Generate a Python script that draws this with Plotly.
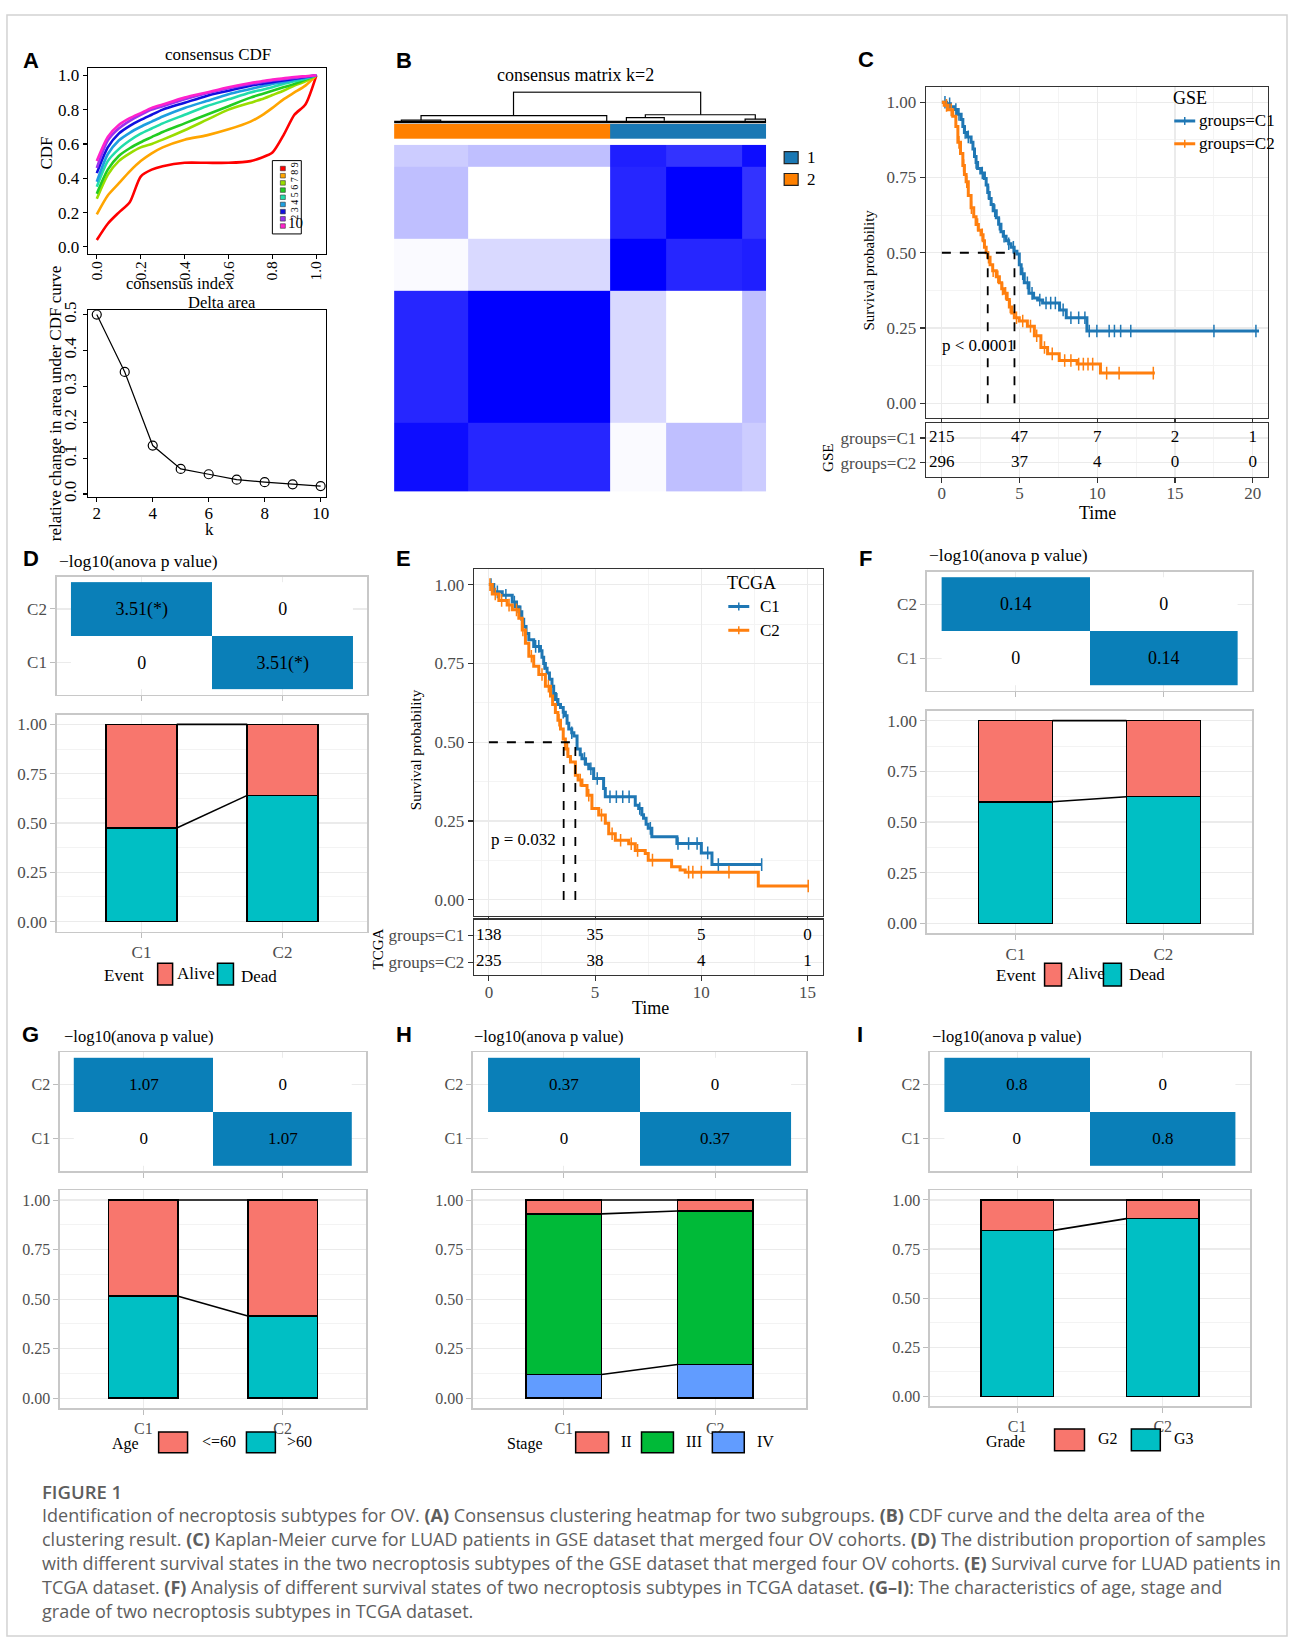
import numpy as np
import plotly.graph_objects as go

W, H = 1293, 1645
SERIF = "Liberation Serif"
SANS = "Liberation Sans"
CAPF = "Open Sans"

# ================= DATA =================
# Panel A: consensus CDF
cdf_index = [0.0, 0.05, 0.1, 0.15, 0.2, 0.25, 0.3, 0.4, 0.5, 0.6, 0.7, 0.75, 0.8, 0.85, 0.9, 0.95, 1.0]
cdf_k2 = [0.04, 0.135, 0.20, 0.26, 0.41, 0.45, 0.47, 0.49, 0.49, 0.49, 0.50, 0.52, 0.55, 0.65, 0.77, 0.83, 1.0]
cdf_k3 = [0.19, 0.30, 0.37, 0.44, 0.50, 0.545, 0.58, 0.625, 0.65, 0.685, 0.73, 0.765, 0.81, 0.86, 0.90, 0.94, 1.0]
cdf_k4 = [0.28, 0.42, 0.50, 0.545, 0.58, 0.60, 0.625, 0.68, 0.74, 0.80, 0.84, 0.86, 0.885, 0.91, 0.94, 0.965, 1.0]
cdf_k5 = [0.31, 0.45, 0.53, 0.575, 0.61, 0.64, 0.67, 0.72, 0.77, 0.82, 0.87, 0.89, 0.91, 0.93, 0.95, 0.975, 1.0]
cdf_k6 = [0.35, 0.50, 0.57, 0.62, 0.66, 0.69, 0.72, 0.77, 0.82, 0.86, 0.90, 0.915, 0.93, 0.95, 0.965, 0.98, 1.0]
cdf_k7 = [0.38, 0.54, 0.62, 0.665, 0.70, 0.73, 0.76, 0.81, 0.85, 0.89, 0.92, 0.935, 0.95, 0.96, 0.975, 0.985, 1.0]
cdf_k8 = [0.43, 0.58, 0.66, 0.705, 0.74, 0.77, 0.80, 0.84, 0.88, 0.91, 0.94, 0.95, 0.96, 0.97, 0.98, 0.99, 1.0]
cdf_k9 = [0.46, 0.62, 0.69, 0.735, 0.77, 0.80, 0.82, 0.86, 0.895, 0.925, 0.95, 0.96, 0.97, 0.978, 0.985, 0.992, 1.0]
cdf_k10 = [0.50, 0.64, 0.71, 0.75, 0.78, 0.81, 0.83, 0.87, 0.90, 0.93, 0.955, 0.965, 0.975, 0.982, 0.99, 0.995, 1.0]
cdf_curves = [cdf_k2, cdf_k3, cdf_k4, cdf_k5, cdf_k6, cdf_k7, cdf_k8, cdf_k9, cdf_k10]
cdf_k_labels = ["2", "3", "4", "5", "6", "7", "8", "9", "10"]

delta_k = [2, 3, 4, 5, 6, 7, 8, 9, 10]
delta_area = [0.50, 0.34, 0.135, 0.07, 0.055, 0.04, 0.033, 0.027, 0.022]

# Panel B: consensus matrix (block structure, samples per sub-block, left to right)
block_sizes = [102, 194, 77, 105, 33]
block_consensus = [
    [0.95, 0.85, 0.02, 0.25, 0.20],
    [0.85, 1.00, 0.15, 0.00, 0.25],
    [0.02, 0.15, 1.00, 0.85, 0.88],
    [0.25, 0.00, 0.85, 1.00, 0.80],
    [0.20, 0.25, 0.88, 0.80, 0.95],
]
cluster_sizes = [296, 215]          # displayed order: cluster 2, cluster 1
cluster_names = ["2", "1"]
# dendrogram links: left x, right x, merge height, left child height, right child height
dend_xl = [164, 37, 10, 345, 319, 482]
dend_xr = [421, 292, 64, 496, 371, 510]
dend_h = [1.0, 0.26, 0.12, 0.29, 0.20, 0.15]
dend_hl = [0.26, 0.12, 0.06, 0.20, 0.06, 0.06]
dend_hr = [0.29, 0.06, 0.06, 0.15, 0.10, 0.06]
dend_leaf = 0.06

# Panel C: GSE Kaplan-Meier
gse_t1 = [0.3, 0.55, 0.8, 1.0, 1.24, 1.35, 1.45, 1.65, 1.88, 2.0, 2.1, 2.2, 2.3, 2.5, 2.74, 2.85, 2.95, 3.05, 3.17, 3.3,
          3.5, 3.65, 3.8, 3.95, 4.13, 4.3, 4.45, 4.65, 4.83, 4.98, 5.1, 5.3, 5.6, 5.9, 6.16, 6.48, 7.57, 8.0, 9.33]
gse_s1 = [0.995, 0.985, 0.976, 0.96, 0.943, 0.92, 0.90, 0.885, 0.867, 0.845, 0.82, 0.80, 0.78, 0.765, 0.747, 0.725, 0.70,
          0.68, 0.66, 0.64, 0.616, 0.595, 0.57, 0.555, 0.54, 0.53, 0.518, 0.505, 0.496, 0.46, 0.43, 0.40, 0.365, 0.35,
          0.343, 0.333, 0.31, 0.284, 0.24]
gse_end1 = 20.4
gse_cens1 = [0.2, 0.5, 0.9, 1.1, 1.5, 1.7, 2.2, 2.6, 3.0, 3.4, 3.7, 4.0, 4.3, 4.6, 5.2, 5.5, 5.8, 6.3, 6.7, 7.0, 7.3, 7.8,
             8.3, 8.8, 9.2, 9.48, 9.97, 10.76, 11.1, 11.5, 12.15, 17.5, 20.2]
gse_t2 = [0.15, 0.4, 0.7, 0.9, 1.03, 1.2, 1.35, 1.45, 1.56, 1.7, 1.88, 2.05, 2.2, 2.35, 2.52, 2.65, 2.74, 2.85, 2.95, 3.1,
          3.27, 3.5, 3.7, 3.85, 4.02, 4.2, 4.34, 4.5, 4.66, 4.98, 5.5, 5.95, 6.37, 6.8, 7.55, 8.7, 10.2]
gse_s2 = [0.99, 0.975, 0.954, 0.92, 0.867, 0.83, 0.79, 0.76, 0.736, 0.69, 0.65, 0.62, 0.594, 0.575, 0.56, 0.54, 0.518,
          0.50, 0.485, 0.46, 0.44, 0.42, 0.40, 0.38, 0.365, 0.345, 0.32, 0.30, 0.284, 0.273, 0.256, 0.224, 0.185, 0.164,
          0.142, 0.13, 0.10]
gse_end2 = 13.7
gse_cens2 = [0.3, 0.6, 1.1, 1.4, 1.6, 1.9, 2.3, 2.6, 3.0, 3.3, 3.6, 3.9, 4.1, 4.4, 4.8, 5.2, 5.7, 6.1, 6.6, 7.1, 7.9, 8.3,
             8.8, 9.1, 9.4, 9.7, 10.6, 11.4, 13.6]
gse_medians = [4.67, 2.95]
gse_risk_times = [0, 5, 10, 15, 20]
gse_risk_c1 = [215, 47, 7, 2, 1]
gse_risk_c2 = [296, 37, 4, 0, 0]

# Panel E: TCGA Kaplan-Meier
tcga_t1 = [0.23, 0.63, 1.1, 1.3, 1.41, 1.55, 1.64, 1.75, 1.88, 2.11, 2.43, 2.5, 2.58, 2.66, 2.74, 2.85, 2.97, 3.05, 3.13,
           3.25, 3.37, 3.5, 3.6, 3.68, 3.76, 3.9, 4.0, 4.15, 4.3, 4.38, 4.55, 4.7, 4.93, 5.4, 5.48, 6.89, 7.05, 7.2,
           7.28, 7.4, 7.5, 7.67, 8.85, 10.0, 10.5]
tcga_s1 = [0.977, 0.966, 0.945, 0.93, 0.914, 0.89, 0.867, 0.845, 0.825, 0.804, 0.79, 0.77, 0.75, 0.735, 0.72, 0.70,
           0.678, 0.655, 0.636, 0.62, 0.61, 0.595, 0.584, 0.56, 0.542, 0.53, 0.52, 0.479, 0.46, 0.448, 0.43, 0.416,
           0.385, 0.353, 0.327, 0.30, 0.29, 0.27, 0.259, 0.24, 0.227, 0.20, 0.179, 0.149, 0.112]
tcga_end1 = 12.84
tcga_cens1 = [0.1, 0.4, 0.8, 1.2, 1.5, 2.2, 2.35, 2.6, 3.2, 3.5, 3.9, 4.5, 4.8, 5.1, 5.7, 6.0, 6.3, 6.6, 7.1, 7.6, 8.9,
              9.4, 9.8, 10.3, 10.8, 12.84]
tcga_t2 = [0.16, 0.47, 0.86, 1.1, 1.41, 1.57, 1.72, 1.88, 2.11, 2.35, 2.66, 2.9, 3.0, 3.13, 3.25, 3.37, 3.5, 3.6, 3.72,
           3.84, 4.07, 4.2, 4.38, 4.62, 4.85, 5.17, 5.48, 5.64, 5.95, 6.58, 6.89, 7.36, 7.5, 8.6, 9.0, 9.24, 12.68]
tcga_s2 = [0.97, 0.95, 0.935, 0.92, 0.893, 0.856, 0.814, 0.773, 0.741, 0.715, 0.678, 0.647, 0.62, 0.594, 0.57, 0.542,
           0.51, 0.479, 0.455, 0.437, 0.395, 0.38, 0.363, 0.332, 0.29, 0.269, 0.243, 0.21, 0.189, 0.178, 0.157, 0.147,
           0.126, 0.105, 0.095, 0.088, 0.044]
tcga_end2 = 15.03
tcga_cens2 = [0.05, 0.3, 0.6, 0.95, 1.3, 1.6, 2.0, 2.5, 2.8, 3.3, 3.7, 4.3, 4.7, 5.3, 5.8, 6.2, 6.7, 7.0, 7.7, 9.4, 9.6,
              10.0, 11.3, 15.03]
tcga_medians = [4.07, 3.52]
tcga_risk_times = [0, 5, 10, 15]
tcga_risk_c1 = [138, 35, 5, 0]
tcga_risk_c2 = [235, 38, 4, 1]

# Panels D, F, G, H, I
subtypes = ["C1", "C2"]
anova_D, anova_D_label = 3.51, "3.51(*)"
anova_F, anova_F_label = 0.14, "0.14"
anova_G, anova_G_label = 1.07, "1.07"
anova_H, anova_H_label = 0.37, "0.37"
anova_I, anova_I_label = 0.8, "0.8"
D_dead = [0.475, 0.64]
D_alive = [0.525, 0.36]
F_dead = [0.60, 0.625]
F_alive = [0.40, 0.375]
G_over60 = [0.515, 0.415]
G_under60 = [0.485, 0.585]
H_IV = [0.12, 0.17]
H_III = [0.81, 0.775]
H_II = [0.07, 0.055]
I_G3 = [0.845, 0.905]
I_G2 = [0.155, 0.095]

# ================= HELPERS =================
layout = {}
traces = []
annotations = []
shapes = []


def PX(x):
    return x / W


def PY(y):
    return 1 - y / H


def xref(n):
    return "x" if n == 1 else f"x{n}"


def yref(n):
    return "y" if n == 1 else f"y{n}"


def axes(n, box, xr, yr, xs, ys):
    x0, y0, x1, y1 = box
    xa = dict(domain=[PX(x0), PX(x1)], range=xr, anchor=yref(n), zeroline=False, fixedrange=True)
    ya = dict(domain=[PY(y1), PY(y0)], range=yr, anchor=xref(n), zeroline=False, fixedrange=True)
    xa.update(xs)
    ya.update(ys)
    layout["xaxis" if n == 1 else f"xaxis{n}"] = xa
    layout["yaxis" if n == 1 else f"yaxis{n}"] = ya


def txt(t, x, y, size=17, color="black", family=SERIF, xa="center", ya="middle", angle=0, weight=None):
    f = dict(family=family, size=size, color=color)
    if weight:
        f["weight"] = weight
    annotations.append(dict(text=t, x=PX(x), y=PY(y), xref="paper", yref="paper", showarrow=False,
                            font=f, xanchor=xa, yanchor=ya, textangle=angle))


def rect(x0, y0, x1, y1, fill, line="black", lw=1.2):
    shapes.append(dict(type="rect", xref="paper", yref="paper", x0=PX(x0), x1=PX(x1), y0=PY(y1), y1=PY(y0),
                       fillcolor=fill, line=dict(color=line, width=lw)))


def pline(x0, y0, x1, y1, color, lw):
    shapes.append(dict(type="line", xref="paper", yref="paper", x0=PX(x0), x1=PX(x1), y0=PY(y0), y1=PY(y1),
                       line=dict(color=color, width=lw)))


R_AX = dict(showline=True, mirror=True, linecolor="black", linewidth=1.2, ticks="outside", ticklen=4,
            tickwidth=1.2, tickcolor="black", showgrid=False,
            tickfont=dict(family=SERIF, size=17, color="black"))
KM_AX = dict(showline=True, mirror=True, linecolor="#333333", linewidth=1.2, ticks="outside", ticklen=5,
             tickwidth=1.2, tickcolor="#333333", showgrid=True, gridcolor="#EBEBEB", gridwidth=1.2,
             tickfont=dict(family=SERIF, size=17, color="#4D4D4D"))
LT_AX = dict(showline=True, mirror=True, linecolor="#C8C8C8", linewidth=1.5, ticks="outside", ticklen=5,
             tickwidth=1, tickcolor="#BDBDBD", showgrid=True, gridcolor="#EBEBEB", gridwidth=1.2,
             tickfont=dict(family=SERIF, size=17, color="#4D4D4D"))

SALMON, TEAL, GREEN, LBLUE = "#F8766D", "#00BFC4", "#00BA38", "#619CFF"
TILE = "#0A7FB8"
KM1, KM2 = "#1F77B4", "#FF7F0E"

# ================= PANEL A =================
cdf_colors = ["#FF0000", "#FFA500", "#99DD00", "#22CC22", "#22DDAA", "#1E9FE0", "#1010E0", "#9933EE", "#FF22CC"]
axes(1, (88, 60, 327, 247), [-0.041, 1.045], [-0.04, 1.04],
     dict(R_AX, tickvals=[0, 0.2, 0.4, 0.6, 0.8, 1.0], tickformat=".1f", tickangle=-90, ticklabelstandoff=-4,
          tickfont=dict(family=SERIF, size=15.5, color="black")),
     dict(R_AX, tickvals=[0, 0.2, 0.4, 0.6, 0.8, 1.0], tickformat=".1f"))
for curve, col in zip(cdf_curves, cdf_colors):
    traces.append(go.Scatter(x=cdf_index, y=curve, mode="lines", line=dict(color=col, width=2.6, shape="spline",
                                                                              smoothing=0.7),
                             xaxis=xref(1), yaxis=yref(1), hoverinfo="skip"))
# CDF legend box
rect(273, 153, 302, 227, "white", "black", 1)
for i, (col, lab) in enumerate(zip(cdf_colors, cdf_k_labels)):
    yy = 161 + i * 7.25
    rect(281, yy - 2.3, 286, yy + 2.3, col, "#333333", 0.6)
txt("2 3 4 5 6 7 8 9", 295, 183, size=10, angle=-90)
txt("10", 296, 216, size=15)
txt("consensus CDF", 219, 46, size=17)
txt("consensus index", 180, 277, size=16.5)
txt("CDF", 47, 145, size=17, angle=-90)

axes(2, (88, 304, 327, 492), [1.68, 10.2], [-0.007, 0.512],
     dict(R_AX, tickvals=[2, 4, 6, 8, 10], ticklabelstandoff=-3),
     dict(R_AX, tickvals=[0, 0.1, 0.2, 0.3, 0.4, 0.5], tickformat=".1f", tickangle=-90))
traces.append(go.Scatter(x=delta_k, y=delta_area, mode="lines+markers", line=dict(color="black", width=1.2),
                         marker=dict(symbol="circle-open", size=9, color="black", line=dict(width=1.2)),
                         xaxis=xref(2), yaxis=yref(2), hoverinfo="skip"))
txt("Delta area", 223, 296, size=16.5)
txt("relative change in area under CDF curve", 55, 398, size=17, angle=-90)
txt("k", 210, 525, size=17)

# ================= PANEL B =================
edges = [0]
for s in block_sizes:
    edges.append(edges[-1] + s)
NS = edges[-1]
HID = dict(visible=False)
axes(3, (395, 137, 768, 487), [0, NS], [0, NS], HID, HID)
traces.append(go.Heatmap(x=edges, y=edges, z=block_consensus, colorscale=[[0, "#FFFFFF"], [1, "#0000FF"]],
                         zmin=0, zmax=1, showscale=False, xaxis=xref(3), yaxis=yref(3), hoverinfo="skip"))
cedges = [0, cluster_sizes[0], cluster_sizes[0] + cluster_sizes[1]]
axes(4, (395, 116, 768, 131), [0, NS], [0, 1], HID, HID)
traces.append(go.Heatmap(x=cedges, y=[0, 1], z=[[0, 1]], colorscale=[[0, "#FF8000"], [1, "#1A78B4"]],
                         zmin=0, zmax=1, showscale=False, xaxis=xref(4), yaxis=yref(4), hoverinfo="skip"))
axes(5, (395, 83, 768, 116), [0, NS], [0, 1.03], HID, HID)
dx, dy = [], []
for xl, xr_, h, hl, hr in zip(dend_xl, dend_xr, dend_h, dend_hl, dend_hr):
    dx += [xl, xl, xr_, xr_, None]
    dy += [hl, h, h, hr, None]
traces.append(go.Scatter(x=dx, y=dy, mode="lines", line=dict(color="black", width=1.2),
                         xaxis=xref(5), yaxis=yref(5), hoverinfo="skip"))
traces.append(go.Scatter(x=[0, NS], y=[dend_leaf, dend_leaf], mode="lines", line=dict(color="black", width=2.5),
                         xaxis=xref(5), yaxis=yref(5), hoverinfo="skip"))
txt("consensus matrix k=2", 577, 67, size=18)
rect(786, 144, 800, 156, "#1A78B4", "#222222", 1.2)
rect(786, 166, 800, 178, "#FF8000", "#222222", 1.2)
txt(cluster_names[1], 807, 150, size=17, xa="left")
txt(cluster_names[0], 807, 172, size=17, xa="left")


# ================= KM panels =================
def step_at(times, survs, t):
    idx = np.searchsorted(np.array(times), t, side="right") - 1
    return 1.0 if idx < 0 else survs[idx]


def km_panel(nk, nr, kbox, rbox, xr, rr, t1, s1, e1, c1, t2, s2, e2, c2, meds, rt, r1, r2, rlabels):
    axes(nk, kbox, xr, [-0.05, 1.05],
         dict(KM_AX, tick0=0, dtick=5, showticklabels=False, minor=dict(dtick=2.5, showgrid=True,
                                                                         gridcolor="#F4F4F4", gridwidth=1)),
         dict(KM_AX, tickvals=[0, 0.25, 0.5, 0.75, 1.0], tickformat=".2f",
              minor=dict(tickvals=[0.125, 0.375, 0.625, 0.875], showgrid=True, gridcolor="#F4F4F4", gridwidth=1)))
    for t, s, e, c, col in ((t1, s1, e1, c1, KM1), (t2, s2, e2, c2, KM2)):
        traces.append(go.Scatter(x=[0] + t + [e], y=[1.0] + s + [s[-1]], mode="lines",
                                 line=dict(color=col, width=3, shape="hv"),
                                 xaxis=xref(nk), yaxis=yref(nk), hoverinfo="skip"))
        traces.append(go.Scatter(x=c, y=[step_at(t, s, v) for v in c], mode="markers",
                                 marker=dict(symbol="line-ns", size=9, line=dict(color=col, width=1.5)),
                                 xaxis=xref(nk), yaxis=yref(nk), hoverinfo="skip"))
    mmax = max(meds)
    traces.append(go.Scatter(x=[0, mmax], y=[0.5, 0.5], mode="lines", line=dict(color="black", width=1.8, dash="dash"),
                             xaxis=xref(nk), yaxis=yref(nk), hoverinfo="skip"))
    for m in meds:
        traces.append(go.Scatter(x=[m, m], y=[0, 0.5], mode="lines",
                                 line=dict(color="black", width=1.8, dash="dash"),
                                 xaxis=xref(nk), yaxis=yref(nk), hoverinfo="skip"))
    axes(nr, rbox, xr, rr,
         dict(KM_AX, tick0=0, dtick=5, ticklabelstandoff=-4,
              minor=dict(dtick=2.5, showgrid=True, gridcolor="#F4F4F4", gridwidth=1)),
         dict(KM_AX, tickvals=[2, 1], ticktext=rlabels))
    for yy, r in ((2, r1), (1, r2)):
        traces.append(go.Scatter(x=rt, y=[yy] * len(rt), mode="text", text=[str(v) for v in r],
                                 textfont=dict(family=SERIF, size=17, color="black"),
                                 xaxis=xref(nr), yaxis=yref(nr), hoverinfo="skip"))


km_panel(6, 7, (928, 79, 1271, 413), (928, 418, 1271, 472), [-1.03, 20.98], [0.44, 2.6],
         gse_t1, gse_s1, gse_end1, gse_cens1, gse_t2, gse_s2, gse_end2, gse_cens2, gse_medians,
         gse_risk_times, gse_risk_c1, gse_risk_c2, ["groups=C1", "groups=C2"])
txt("Survival probability", 871, 263, size=15, angle=-90)
txt("Time", 1100, 509, size=18)
txt("GSE", 830, 453, size=15, angle=-90)
txt("p &lt; 0.0001", 942, 340, size=17, xa="left")
txt("GSE", 1174, 90, size=18, xa="left")
for yy, col, lab in ((113, KM1, "groups=C1"), (136, KM2, "groups=C2")):
    pline(1177, yy, 1198, yy, col, 3)
    pline(1187.5, yy - 4, 1187.5, yy + 4, col, 1.5)
    txt(lab, 1200, yy, size=17, xa="left")

km_panel(10, 11, (475, 565, 825, 915), (475, 919, 825, 975), [-0.705, 15.73], [0.52, 2.59],
         tcga_t1, tcga_s1, tcga_end1, tcga_cens1, tcga_t2, tcga_s2, tcga_end2, tcga_cens2, tcga_medians,
         tcga_risk_times, tcga_risk_c1, tcga_risk_c2, ["groups=C1", "groups=C2"])
txt("Survival probability", 417, 748, size=15, angle=-90)
txt("Time", 652, 1008, size=18)
txt("TCGA", 379, 949, size=15, angle=-90)
txt("p = 0.032", 490, 838, size=17, xa="left")
txt("TCGA", 727, 579, size=18, xa="left")
for yy, col, lab in ((603, KM1, "C1"), (627, KM2, "C2")):
    pline(730, yy, 751, yy, col, 3)
    pline(740.5, yy - 4, 740.5, yy + 4, col, 1.5)
    txt(lab, 760, yy, size=17, xa="left")


# ================= heat + stacked bar panels =================
def heat_bar(nh, nb, hbox, bbox, val, lab, stacks, fs):
    tf = dict(LT_AX["tickfont"], size=fs)
    axes(nh, hbox, [-0.6, 1.6], [-0.6, 1.6],
         dict(LT_AX, tickvals=[0, 1], showticklabels=False),
         dict(LT_AX, tickvals=[0, 1], ticktext=subtypes, tickfont=tf))
    traces.append(go.Heatmap(x=[0, 1], y=[0, 1], z=[[0, val], [val, 0]],
                             text=[["0", lab], [lab, "0"]], texttemplate="%{text}",
                             textfont=dict(family=SERIF, size=fs + 1, color="black"),
                             colorscale=[[0, "#FFFFFF"], [1, TILE]], zmin=0, zmax=val, showscale=False,
                             xaxis=xref(nh), yaxis=yref(nh), hoverinfo="skip"))
    axes(nb, bbox, [-0.6, 1.6], [-0.05, 1.05],
         dict(LT_AX, tickvals=[0, 1], ticktext=subtypes, tickfont=tf),
         dict(LT_AX, tickvals=[0, 0.25, 0.5, 0.75, 1.0], tickformat=".2f", tickfont=tf,
              minor=dict(tickvals=[0.125, 0.375, 0.625, 0.875], showgrid=True, gridcolor="#F3F3F3", gridwidth=1)))
    cum = np.zeros(2)
    for vals, col in stacks:
        traces.append(go.Bar(x=[0, 1], y=vals, width=0.5, marker=dict(color=col, line=dict(color="black", width=1.6)),
                             xaxis=xref(nb), yaxis=yref(nb), hoverinfo="skip"))
        cum = cum + np.array(vals)
        traces.append(go.Scatter(x=[0.25, 0.75], y=list(cum), mode="lines", line=dict(color="black", width=1.6),
                                 xaxis=xref(nb), yaxis=yref(nb), hoverinfo="skip"))


T = "−log10(anova p value)"
heat_bar(8, 9, (57, 573, 368, 692), (57, 712, 368, 931), anova_D, anova_D_label,
         [(D_dead, TEAL), (D_alive, SALMON)], 17)
txt(T, 57, 557, size=17.5, xa="left")
txt("Event", 124, 975, size=17)
rect(158, 963, 173, 985, SALMON, "black", 1.5)
txt("Alive", 175, 973, size=17, xa="left")
rect(218, 963, 234, 985, TEAL, "black", 1.5)
txt("Dead", 240, 976, size=17, xa="left")

heat_bar(12, 13, (929, 568, 1255, 688), (929, 708, 1255, 933), anova_F, anova_F_label,
         [(F_dead, TEAL), (F_alive, SALMON)], 17)
txt(T, 929, 551, size=17.5, xa="left")
txt("Event", 1018, 975, size=17)
rect(1047, 963, 1064, 986, SALMON, "black", 1.5)
txt("Alive", 1067, 973, size=17, xa="left")
rect(1106, 963, 1124, 986, TEAL, "black", 1.5)
txt("Dead", 1130, 974, size=17, xa="left")

heat_bar(14, 15, (60, 1053, 367, 1173), (60, 1192, 367, 1412), anova_G, anova_G_label,
         [(G_over60, TEAL), (G_under60, SALMON)], 16)
txt(T, 62, 1037, size=16.5, xa="left")
txt("Age", 126, 1448, size=16)
rect(159, 1436, 188, 1457, SALMON, "black", 1.5)
txt("&lt;=60", 200, 1446, size=16, xa="left")
rect(247, 1436, 276, 1457, TEAL, "black", 1.5)
txt("&gt;60", 286, 1446, size=16, xa="left")

heat_bar(16, 17, (474, 1053, 808, 1173), (474, 1192, 808, 1412), anova_H, anova_H_label,
         [(H_IV, LBLUE), (H_III, GREEN), (H_II, SALMON)], 16)
txt(T, 473, 1037, size=16.5, xa="left")
txt("Stage", 526, 1448, size=16)
rect(577, 1436, 610, 1457, SALMON, "black", 1.5)
txt("II", 620, 1446, size=16, xa="left")
rect(643, 1436, 675, 1457, GREEN, "black", 1.5)
txt("III", 686, 1446, size=16, xa="left")
rect(714, 1436, 746, 1457, LBLUE, "black", 1.5)
txt("IV", 757, 1446, size=16, xa="left")

heat_bar(18, 19, (932, 1053, 1253, 1173), (932, 1192, 1253, 1410), anova_I, anova_I_label,
         [(I_G3, TEAL), (I_G2, SALMON)], 16)
txt(T, 932, 1037, size=16.5, xa="left")
txt("Grade", 1008, 1446, size=16)
rect(1057, 1433, 1087, 1455, SALMON, "black", 1.5)
txt("G2", 1099, 1443, size=16, xa="left")
rect(1134, 1433, 1163, 1455, TEAL, "black", 1.5)
txt("G3", 1175, 1443, size=16, xa="left")

# ================= panel letters =================
for lab, x, y in (("A", 21, 52), ("B", 395, 52), ("C", 858, 51), ("D", 21, 555), ("E", 395, 555),
                  ("F", 859, 555), ("G", 20, 1035), ("H", 395, 1035), ("I", 857, 1035)):
    txt(lab, x, y, size=22, family=SANS, xa="left", weight="bold")

# ================= caption =================
caption_lines = [
    "Identification of necroptosis subtypes for OV. <b>(A)</b> Consensus clustering heatmap for two subgroups. "
    "<b>(B)</b> CDF curve and the delta area of the",
    "clustering result. <b>(C)</b> Kaplan-Meier curve for LUAD patients in GSE dataset that merged four OV cohorts. "
    "<b>(D)</b> The distribution proportion of samples",
    "with different survival states in the two necroptosis subtypes of the GSE dataset that merged four OV cohorts. "
    "<b>(E)</b> Survival curve for LUAD patients in",
    "TCGA dataset. <b>(F)</b> Analysis of different survival states of two necroptosis subtypes in TCGA dataset. "
    "<b>(G–I)</b>: The characteristics of age, stage and",
    "grade of two necroptosis subtypes in TCGA dataset.",
]
txt("FIGURE 1", 40, 1496, size=18.5, color="#5E5E5E", family=CAPF, xa="left", weight=600)
for i, line in enumerate(caption_lines):
    txt(line, 40, 1520 + i * 24.3, size=18, color="#5E5E5E", family=CAPF, xa="left")

# outer border
shapes.append(dict(type="rect", xref="paper", yref="paper", x0=PX(7), x1=PX(1290), y0=PY(1642), y1=PY(6),
                   line=dict(color="#D2D2D2", width=1.5), fillcolor="rgba(0,0,0,0)"))

fig = go.Figure(data=traces)
fig.update_layout(**layout)
fig.update_layout(width=W, height=H, margin=dict(l=0, r=0, t=0, b=0), autosize=False,
                  paper_bgcolor="white", plot_bgcolor="white", showlegend=False, barmode="stack",
                  annotations=annotations, shapes=shapes, font=dict(family=SERIF))
fig.write_html("out.html", include_plotlyjs=True, full_html=True,
               config={"displayModeBar": False, "staticPlot": True},
               post_script="document.body.style.margin='0px';document.body.style.overflow='hidden';")
